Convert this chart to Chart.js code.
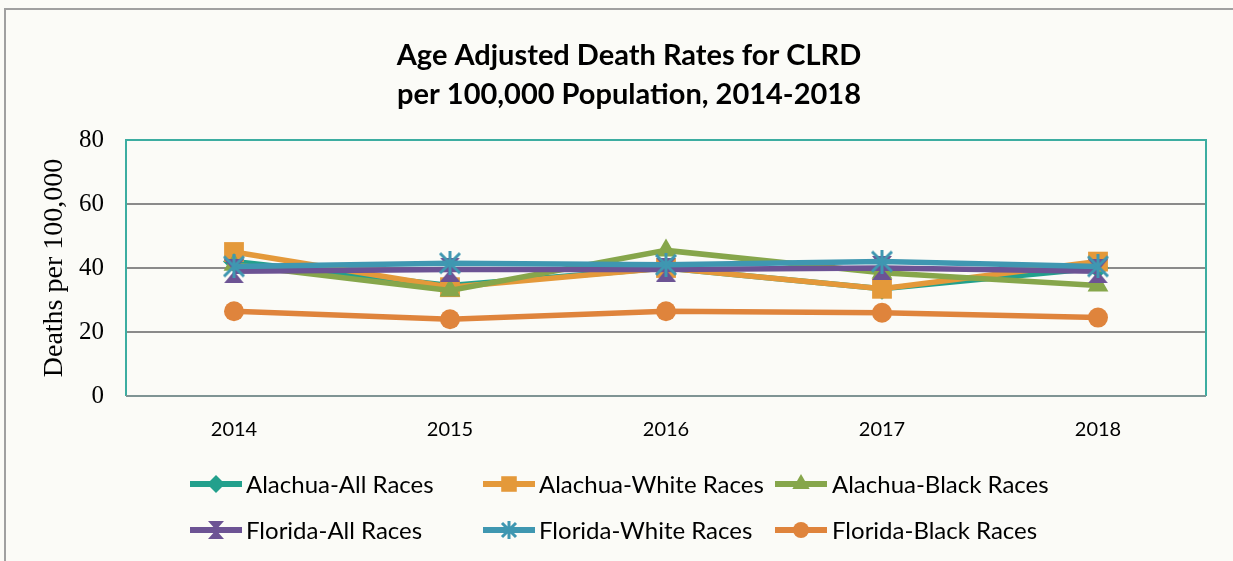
<!DOCTYPE html>
<html>
<head>
<meta charset="utf-8">
<script src="https://cdn.jsdelivr.net/npm/chart.js@4.4.0/dist/chart.umd.min.js"></script>
<style>
  html,body{margin:0;padding:0;background:#fbfbf7;}
  #wrap{position:absolute;left:0;top:0;width:1233px;height:561px;overflow:hidden;}
  #frame{position:absolute;left:4px;top:8px;width:1300px;height:700px;border:2px solid #a0a0a0;}
  #chart{position:absolute;left:0;top:0;}
</style>
</head>
<body>
<div id="wrap">
  <div id="frame"></div>
  <canvas id="chart" width="1233" height="561"></canvas>
</div>
<script>
const years=['2014','2015','2016','2017','2018']
const titleLines=['Age Adjusted Death Rates for CLRD','per 100,000 Population, 2014-2018']
const yTicks=[0,20,40,60,80]

const alachuaAll=[42,34.5,40,33.5,40]
const alachuaWhite=[45,34,40,33.5,42]
const alachuaBlack=[41,33,45.5,38.5,34.5]
const floridaAll=[39,39.5,39.5,40,39]
const floridaWhite=[40.5,41.5,41,42,40.5]
const floridaBlack=[26.5,24,26.5,26,24.5]

const seriesNames=['Alachua-All Races','Alachua-White Races','Alachua-Black Races','Florida-All Races','Florida-White Races','Florida-Black Races']
const seriesValues=[alachuaAll,alachuaWhite,alachuaBlack,floridaAll,floridaWhite,floridaBlack]
const colores=['#22a08c','#e4993a','#86a64b','#6c5394','#3f97b1','#df843c']

// custom markers
function hourglass(color,w,h){
  var c=document.createElement('canvas');c.width=w;c.height=h
  var g=c.getContext('2d');g.fillStyle=color
  g.beginPath();g.moveTo(0,0);g.lineTo(w,0);g.lineTo(w/2,h/2);g.lineTo(w,h);g.lineTo(0,h);g.lineTo(w/2,h/2);g.closePath();g.fill()
  return c
}
function asterisk(color,s){
  var c=document.createElement('canvas');c.width=s;c.height=s
  var g=c.getContext('2d');g.strokeStyle=color;g.lineWidth=3;g.lineCap='butt'
  g.beginPath();g.moveTo(2,2);g.lineTo(s-2,s-2);g.moveTo(s-2,2);g.lineTo(2,s-2);g.moveTo(s/2,0);g.lineTo(s/2,s);g.stroke()
  return c
}
const styles=['rectRot','rect','triangle',hourglass(colores[3],20,24),asterisk(colores[4],24),'circle']
const radios=[11,14,12,12,12,10]
const legStyles=['rectRot','rect','triangle',hourglass(colores[3],16,18),asterisk(colores[4],18),'circle']
const legRadios=[9,11,10,9,9,8]

var datasets=seriesNames.map((n,i)=>({
  label:n,
  data:seriesValues[i],
  borderColor:colores[i],
  backgroundColor:colores[i],
  borderWidth:5.5,
  pointStyle:styles[i],
  pointRadius:radios[i],
  pointBorderWidth:0,
  pointHoverRadius:radios[i],
  tension:0,
  order:seriesNames.length-i
}))

const bgPlugin={
  id:'bg',
  beforeDraw(chart){
    var ctx=chart.ctx
    ctx.save()
    ctx.font='bold 29px Lato'
    ctx.fillStyle='#000'
    ctx.textAlign='center'
    ctx.textBaseline='middle'
    ctx.fillText(titleLines[0],629,56)
    ctx.fillText(titleLines[1],629,95)
    ctx.restore()
  },
  afterDatasetsDraw(chart){
    var a=chart.chartArea,ctx=chart.ctx
    ctx.save()
    ctx.lineWidth=2
    ctx.strokeStyle='#3cada1'
    ctx.beginPath()
    ctx.moveTo(a.left,a.bottom);ctx.lineTo(a.left,a.top);ctx.lineTo(a.right,a.top);ctx.lineTo(a.right,a.bottom)
    ctx.stroke()
    ctx.strokeStyle='#7f9494'
    ctx.beginPath();ctx.moveTo(a.left,a.bottom);ctx.lineTo(a.right,a.bottom);ctx.stroke()
    ctx.restore()
  },
  afterDraw(chart){
    var ctx=chart.ctx
    var cols=[190,483,775],rows=[484,530],textX=[246,539,832]
    ctx.save()
    seriesNames.forEach((n,i)=>{
      var cx=cols[i%3],cy=rows[Math.floor(i/3)]
      ctx.strokeStyle=colores[i];ctx.lineWidth=6
      ctx.beginPath();ctx.moveTo(cx,cy);ctx.lineTo(cx+52,cy);ctx.stroke()
      ctx.fillStyle=colores[i];ctx.strokeStyle=colores[i];ctx.lineWidth=0
      Chart.helpers.drawPoint(ctx,{pointStyle:legStyles[i],rotation:0,borderWidth:0},cx+26,cy)
      ctx.fillStyle='#000'
      ctx.font='24px Lato'
      ctx.textAlign='left';ctx.textBaseline='middle'
      ctx.fillText(n,textX[i%3],cy+1)
    })
    ctx.restore()
  }
}
// radius for legend markers
Chart.helpers.drawPoint=(function(orig){return function(ctx,opts,x,y){
  if(opts.radius===undefined){var i=legStyles.indexOf(opts.pointStyle);opts=Object.assign({},opts,{radius:legRadios[i]})}
  return orig(ctx,opts,x,y)}})(Chart.helpers.drawPoint)

var ctx=document.getElementById('chart').getContext('2d')
var myChart=new Chart(ctx,{
  type:'line',
  data:{labels:years,datasets:datasets},
  options:{
    responsive:false,
    animation:false,
    layout:{padding:{top:140,right:27,left:0,bottom:0}},
    plugins:{legend:{display:false},tooltip:{enabled:false},title:{display:false}},
    scales:{
      x:{
        offset:true,
        grid:{display:false,drawTicks:false},
        border:{display:false},
        ticks:{color:'#000',font:{family:'Lato',size:20},padding:22},
        afterFit(s){s.height=165}
      },
      y:{
        min:0,max:80,
        afterBuildTicks(s){s.ticks=yTicks.map(v=>({value:v}))},
        grid:{color:'#8a8a8a',lineWidth:2,drawTicks:false},
        border:{display:false},
        ticks:{color:'#000',font:{family:'Liberation Serif',size:25},padding:22},
        title:{display:true,text:'Deaths per 100,000',color:'#000',font:{family:'Liberation Serif',size:28},padding:{top:38,bottom:0}},
        afterFit(s){s.width=126}
      }
    }
  },
  plugins:[bgPlugin]
})
</script>
</body>
</html>
